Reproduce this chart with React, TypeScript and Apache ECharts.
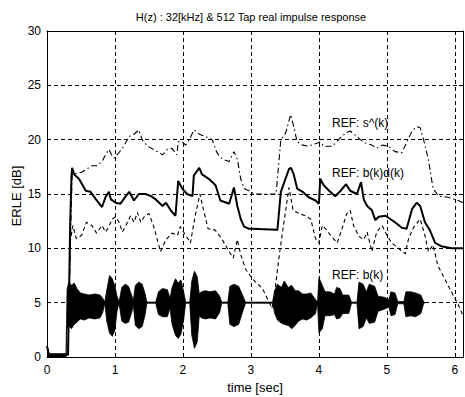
import React, { useEffect, useRef } from "react";
import * as echarts from "echarts";

const FONT = "'Liberation Sans', Arial, Helvetica, sans-serif";

const xTicks = [0, 1, 2, 3, 4, 5, 6];
const yTicks = [0, 5, 10, 15, 20, 25, 30];

// REF: s^(k)  (dash-dot)
const sHatT = [0, 0.03, 0.31, 0.35, 0.37, 0.51, 0.61, 0.66, 0.73, 0.81, 0.86, 0.91, 0.96, 0.99, 1.03, 1.11, 1.21, 1.28, 1.35, 1.4, 1.48, 1.57, 1.7, 1.77, 1.84, 1.91, 1.93, 1.99, 2.04, 2.11, 2.16, 2.24, 2.33, 2.43, 2.5, 2.58, 2.68, 2.75, 2.8, 2.85, 2.9, 2.97, 3.05, 3.37, 3.44, 3.51, 3.585, 3.63, 3.68, 3.76, 3.85, 3.98, 4.02, 4.07, 4.2, 4.29, 4.39, 4.46, 4.56, 4.61, 4.68, 4.78, 4.85, 4.93, 5.02, 5.12, 5.22, 5.29, 5.37, 5.44, 5.49, 5.54, 5.61, 5.68, 5.76, 5.9, 6.05, 6.12];
const sHatV = [1.0, 0.2, 0.2, 12, 16.8, 17.0, 17.4, 17.6, 17.6, 18.0, 18.6, 19.1, 18.5, 18.3, 18.6, 19.2, 20.3, 20.5, 20.9, 20.0, 19.4, 19.1, 18.6, 19.1, 19.2, 18.6, 19.8, 19.8, 19.5, 20.2, 20.9, 20.5, 20.3, 20.0, 18.8, 18.2, 18.0, 18.9, 18.2, 16.4, 15.5, 15.3, 15.0, 15.0, 20.0, 20.6, 22.3, 21.2, 19.8, 19.5, 19.4, 19.7, 19.8, 19.4, 19.4, 20.0, 20.6, 20.8, 20.3, 20.0, 19.7, 19.5, 19.2, 19.5, 19.4, 18.9, 18.8, 19.7, 20.8, 21.2, 21.1, 20.0, 18.2, 15.5, 14.8, 14.7, 14.4, 14.2];

// REF: b(k)d(k)  (solid)
const bdT = [0, 0.03, 0.31, 0.34, 0.36, 0.37, 0.4, 0.47, 0.57, 0.64, 0.72, 0.81, 0.86, 0.91, 0.94, 1.01, 1.08, 1.16, 1.21, 1.28, 1.35, 1.45, 1.53, 1.6, 1.7, 1.75, 1.82, 1.89, 1.93, 1.99, 2.06, 2.14, 2.16, 2.24, 2.28, 2.38, 2.48, 2.55, 2.68, 2.75, 2.8, 2.85, 2.9, 2.97, 3.02, 3.37, 3.39, 3.44, 3.56, 3.59, 3.63, 3.68, 3.76, 3.85, 3.95, 4.0, 4.02, 4.07, 4.15, 4.24, 4.32, 4.4, 4.46, 4.56, 4.62, 4.66, 4.71, 4.78, 4.83, 4.88, 4.98, 5.05, 5.12, 5.22, 5.29, 5.37, 5.44, 5.49, 5.56, 5.63, 5.71, 5.8, 5.95, 6.12];
const bdV = [1.0, 0.2, 0.2, 12, 16.6, 17.4, 16.8, 16.4, 15.3, 15.2, 14.5, 13.8, 14.7, 15.2, 14.5, 14.2, 14.1, 14.8, 15.2, 14.4, 15.0, 15.0, 14.8, 14.5, 13.9, 14.2, 13.5, 13.0, 16.2, 15.5, 15.0, 14.8, 16.7, 17.4, 16.8, 16.4, 15.8, 14.4, 14.1, 15.6, 13.9, 12.7, 12.0, 11.8, 11.8, 11.7, 11.7, 15.2, 17.3, 17.4, 16.8, 15.5, 15.2, 14.7, 14.4, 14.1, 16.4, 15.8, 15.3, 14.8, 15.3, 15.9, 15.3, 15.0, 16.1, 14.5, 13.9, 13.5, 12.6, 12.9, 13.0, 12.7, 12.4, 11.9, 11.8, 13.6, 14.2, 13.9, 12.4, 11.7, 10.5, 10.2, 10.0, 10.0];

// unlabelled comparison curve (dashed)
const dashT = [0, 0.03, 0.31, 0.34, 0.38, 0.43, 0.51, 0.58, 0.66, 0.73, 0.81, 0.86, 0.91, 0.96, 1.01, 1.06, 1.11, 1.16, 1.23, 1.28, 1.33, 1.38, 1.43, 1.5, 1.57, 1.67, 1.75, 1.84, 1.92, 1.96, 2.04, 2.11, 2.18, 2.25, 2.3, 2.37, 2.47, 2.57, 2.67, 2.74, 2.8, 2.85, 2.9, 2.92, 3.02, 3.17, 3.31, 3.36, 3.42, 3.5, 3.56, 3.62, 3.71, 3.8, 3.88, 3.95, 4.0, 4.05, 4.1, 4.17, 4.27, 4.34, 4.41, 4.46, 4.51, 4.59, 4.66, 4.71, 4.78, 4.85, 4.93, 5.0, 5.07, 5.17, 5.27, 5.32, 5.39, 5.49, 5.56, 5.61, 5.68, 5.75, 5.85, 5.95, 6.05, 6.12];
const dashV = [1.0, 0.2, 0.2, 10.5, 12.1, 10.9, 11.2, 12.4, 12.1, 11.4, 12.1, 11.5, 12.0, 12.7, 12.9, 12.4, 11.5, 12.1, 13.0, 12.4, 13.3, 12.4, 12.9, 13.2, 12.0, 9.7, 10.8, 11.4, 11.2, 12.0, 11.2, 10.5, 13.0, 15.0, 13.6, 11.8, 11.7, 10.9, 9.8, 9.1, 10.8, 9.4, 8.5, 8.1, 7.2, 6.3, 4.5, 6.5, 9.5, 13.0, 15.6, 13.5, 13.2, 13.0, 12.7, 10.9, 10.5, 12.1, 11.8, 11.2, 10.5, 11.8, 13.2, 13.5, 12.1, 11.1, 10.8, 11.5, 9.7, 11.5, 12.1, 11.2, 10.5, 10.0, 9.5, 10.9, 11.9, 12.7, 11.2, 9.7, 10.3, 8.4, 7.2, 6.0, 4.8, 3.8];

// REF: b(k)  (envelope of the dense signal around 5 dB)
const bandT = [0, 0.02, 0.28, 0.295, 0.32, 0.36, 0.4, 0.44, 0.49, 0.55, 0.62, 0.7, 0.78, 0.82, 0.85, 0.88, 0.92, 0.96, 1.0, 1.03, 1.06, 1.1, 1.15, 1.2, 1.25, 1.27, 1.3, 1.35, 1.4, 1.44, 1.47, 1.6, 1.64, 1.7, 1.77, 1.81, 1.84, 1.89, 1.93, 1.97, 2.01, 2.04, 2.1, 2.13, 2.17, 2.21, 2.24, 2.27, 2.33, 2.4, 2.48, 2.54, 2.57, 2.66, 2.69, 2.75, 2.82, 2.87, 2.92, 3.32, 3.35, 3.39, 3.45, 3.49, 3.55, 3.6, 3.65, 3.7, 3.76, 3.82, 3.88, 3.95, 3.98, 4.0, 4.05, 4.09, 4.16, 4.23, 4.26, 4.31, 4.35, 4.44, 4.48, 4.56, 4.59, 4.65, 4.7, 4.74, 4.82, 4.87, 4.96, 5.03, 5.06, 5.12, 5.16, 5.25, 5.28, 5.35, 5.42, 5.5, 5.54, 5.56];
const bandHi = [1.0, 0.3, 0.3, 6.2, 6.9, 6.6, 6.8, 6.3, 5.9, 5.8, 5.7, 5.8, 5.7, 5.4, 5.05, 6.2, 7.5, 7.2, 6.5, 5.6, 5.05, 6.4, 6.7, 6.5, 5.6, 5.2, 6.6, 6.9, 6.7, 5.9, 5.05, 5.05, 6.0, 6.3, 6.2, 5.4, 6.4, 7.2, 6.8, 7.1, 6.0, 5.05, 5.05, 7.0, 7.9, 7.4, 5.8, 6.0, 6.1, 6.0, 6.1, 5.6, 5.05, 5.05, 6.5, 6.7, 6.5, 5.8, 5.05, 5.05, 6.1, 6.7, 6.4, 7.0, 6.4, 6.6, 6.1, 6.1, 5.8, 5.8, 5.9, 5.3, 5.05, 7.3, 6.6, 6.0, 6.0, 5.8, 6.4, 6.3, 5.7, 5.7, 5.05, 5.05, 6.9, 6.7, 6.0, 6.7, 6.5, 5.6, 5.5, 5.3, 6.0, 5.9, 5.1, 5.1, 6.0, 6.0, 5.9, 5.7, 5.1, 5.0];
const bandLo = [0, 0, 0, 2.6, 2.9, 2.6, 3.0, 3.2, 3.5, 3.4, 3.6, 3.5, 3.6, 4.1, 4.95, 3.3, 2.2, 1.9, 2.5, 4.2, 4.95, 3.3, 3.1, 3.2, 4.2, 4.8, 2.9, 2.6, 2.8, 3.8, 4.95, 4.95, 3.9, 3.7, 3.7, 4.5, 3.0, 2.0, 1.7, 2.1, 3.4, 4.95, 4.95, 2.0, 0.8, 1.4, 3.8, 3.6, 3.5, 3.6, 3.5, 4.1, 4.95, 4.95, 3.0, 2.8, 3.0, 4.0, 4.95, 4.95, 4.0, 3.4, 3.1, 3.0, 2.9, 2.6, 2.9, 3.3, 3.5, 3.4, 3.6, 4.0, 4.95, 2.2, 2.6, 3.8, 3.8, 3.9, 3.5, 3.6, 4.0, 4.0, 4.95, 4.95, 2.6, 2.8, 3.6, 3.1, 3.2, 4.2, 4.4, 4.6, 3.8, 3.9, 4.9, 4.9, 3.7, 3.8, 3.7, 4.0, 4.9, 5.0];

const pairs = (t: number[], v: number[]) => t.map((x, i) => [x, v[i]]);

export default function App() {
  const ref = useRef<HTMLDivElement>(null);
  useEffect(() => {
    const chart = echarts.init(ref.current!, null, { renderer: "svg" });
    const black = "#000";
    const tickLabel = { color: black, fontSize: 12, fontFamily: FONT };
    const xFmt = (v: number) => (xTicks.includes(v) ? String(v) : "");
    const yFmt = (v: number) => (yTicks.includes(v) ? String(v) : "");
    const baseX = {
      type: "value" as const,
      min: 0,
      max: 6.12,
      interval: 1,
      axisLine: { show: true, onZero: false, lineStyle: { color: black, width: 1 } },
      axisTick: { show: true, inside: true, length: 4, lineStyle: { color: black } },
    };
    const baseY = {
      type: "value" as const,
      min: 0,
      max: 30,
      interval: 5,
      axisLine: { show: true, onZero: false, lineStyle: { color: black, width: 1 } },
      axisTick: { show: true, inside: true, length: 4, lineStyle: { color: black } },
    };
    const option: any = {
      animation: false,
      backgroundColor: "#fff",
      grid: { left: 47, right: 2, top: 31, bottom: 40, containLabel: false },
      xAxis: [
        {
          ...baseX,
          position: "bottom",
          axisLabel: { ...tickLabel, margin: 7, formatter: xFmt, showMaxLabel: false },
          splitLine: { show: true, lineStyle: { color: black, type: [4, 3], width: 1 } },
        },
        {
          ...baseX,
          position: "top",
          axisLabel: { show: false },
          splitLine: { show: false },
        },
      ],
      yAxis: [
        {
          ...baseY,
          position: "left",
          axisLabel: { ...tickLabel, margin: 6, formatter: yFmt },
          splitLine: { show: true, lineStyle: { color: black, type: [4, 3], width: 1 } },
        },
        {
          ...baseY,
          position: "right",
          axisLabel: { show: false },
          splitLine: { show: false },
        },
      ],
      series: [
        {
          name: "REF: b(k)",
          type: "custom",
          coordinateSystem: "cartesian2d",
          xAxisIndex: 0,
          yAxisIndex: 0,
          clip: true,
          silent: true,
          z: 3,
          data: bandT.map((t, i) => [t, bandHi[i], bandLo[i]]),
          encode: { x: 0, y: [1, 2] },
          renderItem: (params: any, api: any) => {
            if (params.dataIndex !== 0) return null;
            const top = bandT.map((t, i) => api.coord([t, bandHi[i]]));
            const bot = bandT.map((t, i) => api.coord([t, bandLo[i]])).reverse();
            return {
              type: "polygon",
              shape: { points: top.concat(bot) },
              style: { fill: black, stroke: black, lineWidth: 0.8 },
            };
          },
        },
        {
          name: "comparison",
          type: "line",
          data: pairs(dashT, dashV),
          showSymbol: false,
          symbol: "none",
          z: 4,
          lineStyle: { color: black, width: 1.1, type: [4, 3] },
        },
        {
          name: "REF: s^(k)",
          type: "line",
          data: pairs(sHatT, sHatV),
          showSymbol: false,
          symbol: "none",
          z: 4,
          lineStyle: { color: black, width: 1.1, type: [6, 3, 1.5, 3] },
        },
        {
          name: "REF: b(k)d(k)",
          type: "line",
          data: pairs(bdT, bdV),
          showSymbol: false,
          symbol: "none",
          z: 5,
          lineStyle: { color: black, width: 2 },
        },
      ],
      graphic: [
        {
          type: "text",
          x: 251,
          y: 17,
          style: {
            text: "H(z) : 32[kHz] & 512 Tap real impulse response",
            fill: black,
            font: `11px ${FONT}`,
            textAlign: "center",
            textVerticalAlign: "middle",
          },
        },
        {
          type: "text",
          x: 16,
          y: 196,
          rotation: Math.PI / 2,
          style: {
            text: "ERLE [dB]",
            fill: black,
            font: `13px ${FONT}`,
            textAlign: "center",
            textVerticalAlign: "middle",
          },
        },
        {
          type: "text",
          x: 255,
          y: 387,
          style: {
            text: "time [sec]",
            fill: black,
            font: `13px ${FONT}`,
            textAlign: "center",
            textVerticalAlign: "middle",
          },
        },
        {
          type: "text",
          x: 332,
          y: 123,
          z: 10,
          style: { text: "REF: s^(k)", fill: black, font: `12px ${FONT}`, textAlign: "left", textVerticalAlign: "middle" },
        },
        {
          type: "text",
          x: 332,
          y: 173,
          z: 10,
          style: { text: "REF: b(k)d(k)", fill: black, font: `12px ${FONT}`, textAlign: "left", textVerticalAlign: "middle" },
        },
        {
          type: "text",
          x: 332,
          y: 275,
          z: 10,
          style: { text: "REF: b(k)", fill: black, font: `12px ${FONT}`, textAlign: "left", textVerticalAlign: "middle" },
        },
      ],
    };
    chart.setOption(option);
    return () => chart.dispose();
  }, []);
  return (
    <div
      ref={ref}
      style={{ position: "absolute", left: 0, top: 0, width: 465, height: 397, background: "#fff" }}
    />
  );
}
